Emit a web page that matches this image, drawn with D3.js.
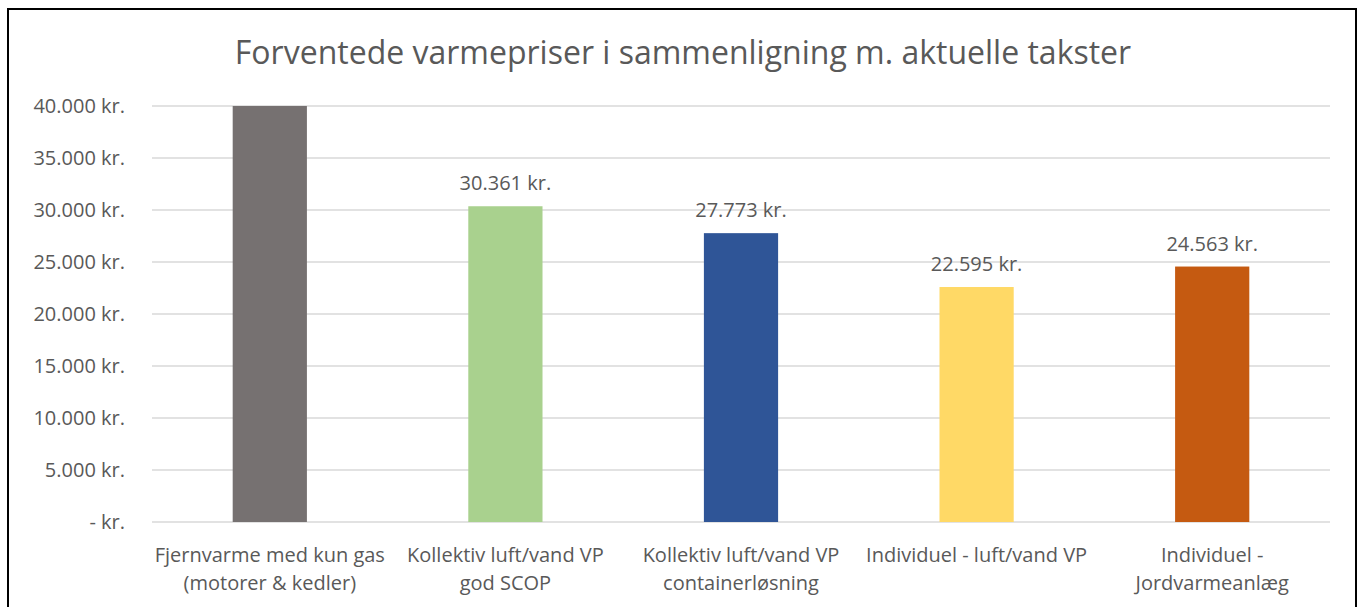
<!DOCTYPE html>
<html>
<head>
<meta charset="utf-8">
<script src="https://cdn.jsdelivr.net/npm/d3@7"></script>
<style>
  body { margin: 0; background: #fff; }
  text { font-family: "Open Sans", "Liberation Sans", sans-serif; fill: #595959; }
</style>
</head>
<body>
<div id="graphique"></div>
<script>
// data
const categories = [
    ['Fjernvarme med kun gas', '(motorer & kedler)'],
    ['Kollektiv luft/vand VP', 'god SCOP'],
    ['Kollektiv luft/vand VP', 'containerløsning'],
    ['Individuel - luft/vand VP'],
    ['Individuel -', 'Jordvarmeanlæg']
]
const values = [40000, 30361, 27773, 22595, 24563]
const colors = ['#767171', '#A9D18E', '#2F5597', '#FFD966', '#C55A11']
const ticks = [0, 5000, 10000, 15000, 20000, 25000, 30000, 35000, 40000]
const title = 'Forventede varmepriser i sammenligning m. aktuelle takster'

const fmt = v => v === 0 ? '- kr.' : d3.format(',')(v).replace(/,/g, '.') + ' kr.'

let W = 1359, H = 607
let margin = { top: 106, right: 29, bottom: 85, left: 152 },
    width = W - margin.left - margin.right,
    height = H - margin.top - margin.bottom

let svg = d3.select('#graphique').append('svg')
    .attr('width', W)
    .attr('height', H)

// frame
svg.append('rect')
    .attr('x', 8).attr('y', 9)
    .attr('width', 1348).attr('height', 620)
    .attr('fill', 'none')
    .attr('stroke', '#000')
    .attr('stroke-width', 2)

svg.append('text')
    .attr('x', 683).attr('y', 64)
    .attr('text-anchor', 'middle')
    .style('font-size', '32px')
    .text(title)

let g = svg.append('g')
    .attr('transform', 'translate(' + margin.left + ',' + margin.top + ')')

let x = d3.scaleBand()
    .domain(d3.range(values.length))
    .range([0, width])
let y = d3.scaleLinear()
    .domain([0, 40000])
    .range([height, 0])

// gridlines
g.selectAll('.grid')
    .data(ticks)
    .enter().append('line')
    .attr('x1', 0).attr('x2', width)
    .attr('y1', d => y(d)).attr('y2', d => y(d))
    .attr('stroke', '#d9d9d9')
    .attr('stroke-width', 1.3)

// y axis labels
let yAxis = g.append('g')
    .call(d3.axisLeft(y).tickValues(ticks).tickFormat(fmt).tickSize(0).tickPadding(27))
yAxis.select('.domain').remove()
yAxis.selectAll('text')
    .style('font-size', '20px')
    .style('font-family', '"Open Sans", sans-serif')
    .attr('fill', '#595959')

let barW = x.bandwidth() * 0.315

g.selectAll('.bar')
    .data(values)
    .enter().append('rect')
    .attr('x', (d, i) => x(i) + (x.bandwidth() - barW) / 2)
    .attr('width', barW)
    .attr('y', d => y(Math.min(d, 40000)))
    .attr('height', d => height - y(Math.min(d, 40000)))
    .attr('fill', (d, i) => colors[i])

// data labels (not shown when value reaches axis max)
let lblData = values.map((v, i) => ({ v: v, i: i })).filter(d => d.v < 40000)
g.selectAll('.lbl')
    .data(lblData)
    .enter().append('text')
    .attr('x', d => x(d.i) + x.bandwidth() / 2)
    .attr('y', d => y(d.v) - 16)
    .attr('text-anchor', 'middle')
    .style('font-size', '20px')
    .text(d => fmt(d.v))

// category labels
let cat = g.selectAll('.cat')
    .data(categories)
    .enter().append('text')
    .attr('text-anchor', 'middle')
    .attr('transform', (d, i) => 'translate(' + (x(i) + x.bandwidth() / 2) + ',' + (height + 40) + ')')
    .style('font-size', '20px')
cat.selectAll('tspan')
    .data(d => d)
    .enter().append('tspan')
    .attr('x', 0)
    .attr('dy', (d, i) => i === 0 ? 0 : 28)
    .text(d => d)
</script>
</body>
</html>
